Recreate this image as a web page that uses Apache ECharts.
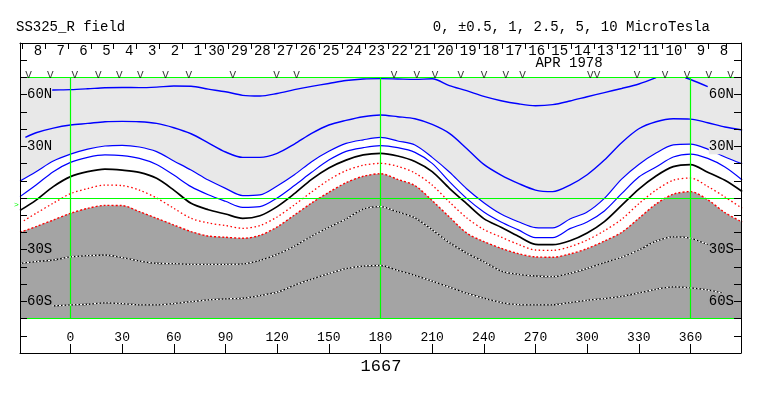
<!DOCTYPE html>
<html><head><meta charset="utf-8">
<script src="https://cdn.jsdelivr.net/npm/echarts@6/dist/echarts.min.js"></script>
<style>html,body{margin:0;padding:0;background:#fff}#c{width:763px;height:396px}</style>
</head><body><div id="c"></div>
<script>
// ---------------- data ----------------
const lonTicks = [0,30,60,90,120,150,180,210,240,270,300,330,360];
const dayTicks = [0,1,2,3,4,5,6,7,8,9,10,11,12,13,14,15,16,17,18,19,20,21,22,23,24,25,26,27,28,29,30,30.8];
const dayLabelPos = [0.5,1.5,2.5,3.5,4.5,5.5,6.5,7.5,8.5,9.5,10.5,11.5,12.5,13.5,14.5,15.5,16.5,17.5,18.5,19.5,20.5,21.5,22.5,23.5,24.5,25.5,26.5,27.5,28.5,29.5,30.5];
const dayLabels = ['8','7','6','5','4','3','2','1','30','29','28','27','26','25','24','23','22','21','20','19','18','17','16','15','14','13','12','11','10','9','8'];
const obsLons = [-24.3,-11.7,2.5,16.1,28.4,40.6,55.2,68.7,94.3,119.7,131.3,187.9,201.1,211.7,226.7,240.2,252.8,262.5,301.8,305.8,329.0,345.3,358.0,370.6,383.2];
const latLabelVals = [60,30,-30,-60];
const latLabelText = ['60N','30N','30S','60S'];
const greenLons = [0,180,360];
const greenLats = [70,0,-70];
const plotTop = 70, plotBottom = -70;

// contour latitudes [Carrington longitude, latitude]
const b5 = [[-12.6,62.6],[-10,62.7],[0,62.9],[10,63.4],[20,64.0],[30,64.2],[40,64.1],[50,64.4],[60,65.0],[70,64.9],[80,63.2],[90,61.7],[100,59.6],[110,59.2],[120,60.7],[130,62.9],[140,64.8],[150,66.5],[160,68.2],[170,69.1],[180,69.3],[190,69.1],[200,68.9],[210,69.2],[220,65.3],[230,62.3],[240,59],[250,56.5],[260,54.7],[270,53.6],[280,54.2],[290,56.3],[300,58.8],[310,61.2],[320,63.6],[330,66.2],[340,69.9],[350,'-'],[357,69.8],[360,68.8],[370,64.7]];
const b25 = [[-26.2,35.2],[-20,37.9],[-10,40.6],[0,42.4],[10,43.3],[20,44.3],[30,44.5],[40,44.3],[50,43.3],[60,40.8],[70,37.3],[80,32],[90,26.7],[100,23.6],[110,23.6],[120,25.9],[130,31.3],[140,37.5],[150,42.4],[160,45.1],[170,47.2],[180,48.2],[190,47.2],[200,46],[210,42.7],[220,37.5],[230,28.8],[240,19.5],[250,13.3],[260,8.5],[270,4.6],[280,3.7],[290,7.5],[300,13.5],[310,22],[320,32.1],[330,40.2],[340,44.3],[350,46],[360,45.8],[370,43.7],[380,41.2],[390,39.5]];
const b1 = [[-29.3,9.9],[-20,15.3],[-10,21.5],[0,25.5],[10,28.4],[20,30.2],[30,30.6],[40,29.6],[50,26.9],[60,21.5],[70,16.2],[80,10.4],[90,5.6],[100,1.4],[110,1.8],[120,7],[130,13.5],[140,21.1],[150,27.1],[160,31.7],[170,33.8],[180,35.2],[190,33.1],[200,30.8],[210,23.6],[220,15.1],[230,5.4],[240,-2.7],[250,-9.3],[260,-13.8],[270,-17.2],[280,-17.4],[290,-12.2],[300,-8.1],[310,-0.2],[320,11],[330,19.5],[340,26.1],[350,30.8],[360,31.3],[370,28.4],[380,23.8],[390,19.8]];
const b05 = [[-29.3,0.8],[-20,7.5],[-10,15.3],[0,20.7],[10,23.6],[20,25],[30,24.6],[40,23],[50,19.5],[60,13.3],[70,6.6],[80,1.9],[90,-1.9],[100,-5.4],[110,-5],[120,0],[130,7.2],[140,14.9],[150,22],[160,27.1],[170,29.2],[180,30.4],[190,29.2],[200,26.5],[210,20.1],[220,9.5],[230,-0.2],[240,-8.1],[250,-13.9],[260,-18.5],[270,-23],[280,-23],[290,-17.8],[300,-13.9],[310,-7.5],[320,2.5],[330,12.2],[340,18],[350,23.8],[360,25.5],[370,23],[380,18],[390,10.5]];
const k0 = [[-29.3,-7.2],[-20,-1.2],[-10,6.6],[0,12.4],[10,15.3],[20,16.8],[30,16.2],[40,14.9],[50,11.4],[60,4.6],[70,-3.1],[80,-6.8],[90,-9.3],[100,-11.8],[110,-10.3],[120,-5],[130,2.5],[140,10.8],[150,17.4],[160,22],[170,25],[180,25.9],[190,24.4],[200,21.2],[210,15.3],[220,5.6],[230,-3.3],[240,-12],[250,-17],[260,-22.2],[270,-26.9],[280,-27.1],[290,-24.8],[300,-20.3],[310,-13.7],[320,-4.3],[330,5.2],[340,12.8],[350,18.2],[360,19.4],[370,15],[380,10.3],[390,3.8]];
const r05 = [[-27.1,-13.2],[-20,-8.9],[-10,-3],[0,2.5],[10,5.5],[20,7.5],[30,7.2],[40,4.6],[50,0],[60,-6],[70,-11.8],[80,-14.5],[90,-16],[100,-17.6],[110,-16],[120,-11],[130,-4],[140,3.5],[150,10.5],[160,15.9],[170,19],[180,20.1],[190,18.4],[200,14.5],[210,7.5],[220,-2.3],[230,-11.5],[240,-18.3],[250,-22.7],[260,-26.9],[270,-30.2],[280,-30.4],[290,-28.3],[300,-24.4],[310,-19],[320,-12.4],[330,-3.3],[340,4.6],[350,10.3],[360,11.6],[370,6.7],[380,0.6],[390,-6]];
const r1 = [[-29.3,-20],[-20,-16.6],[-10,-12.8],[0,-8.9],[10,-6],[20,-4.3],[30,-4.4],[40,-7.9],[50,-11.8],[60,-15.7],[70,-19.5],[80,-22.1],[90,-22.8],[100,-23.4],[110,-21.7],[120,-16.8],[130,-9.9],[140,-2.9],[150,3.3],[160,8.9],[170,12.6],[180,14.1],[190,10.8],[200,7.2],[210,-1.5],[220,-11],[230,-20.3],[240,-25.3],[250,-29.2],[260,-32.3],[270,-34.2],[280,-34.4],[290,-32.5],[300,-29.4],[310,-25],[320,-20],[330,-11.8],[340,-3.5],[350,2.2],[360,3.7],[370,-1],[380,-8.5],[390,-14]];
const w25 = [[-29.3,-37.9],[-20,-36.9],[-10,-36],[0,-34.2],[10,-33.5],[20,-33.1],[30,-34.6],[40,-36.6],[50,-37.9],[60,-38.1],[70,-38.5],[80,-38.5],[90,-38.5],[100,-38.3],[110,-36.2],[120,-32.7],[130,-28],[140,-22.2],[150,-17],[160,-12.2],[170,-6.4],[180,-5],[190,-8.1],[200,-11.5],[210,-18.4],[220,-25.9],[230,-32],[240,-37],[250,-42.4],[260,-44.3],[270,-45.3],[280,-45.6],[290,-43.7],[300,-40.8],[310,-37.5],[320,-34.4],[330,-30.2],[340,-25.1],[350,-22.6],[360,-23.4],[370,-27]];
const w5 = [[-10.7,-62.7],[0,-62.1],[10,-61.7],[20,-60.9],[30,-61.3],[40,-62.1],[50,-62.1],[60,-61.3],[70,-60.2],[80,-59.2],[90,-58.6],[100,-58.2],[110,-56.7],[120,-54.7],[130,-50.7],[140,-47.2],[150,-43.9],[160,-41],[170,-39.5],[180,-39.2],[190,-42],[200,-44.9],[210,-48.3],[220,-51.8],[230,-55.3],[240,-58.2],[250,-60.7],[260,-61.9],[270,-62.1],[280,-62.1],[290,-60.7],[300,-59.4],[310,-58.4],[320,-57.1],[330,-55.1],[340,-53],[350,-51.6],[360,-52.2],[370,-53.4],[379,-55.3]];

// ---------------- chart ----------------
const MONO = '"Liberation Mono", "DejaVu Sans Mono", monospace';
const LIGHT = '#e8e8e8', DARK = '#a4a4a4';
const xMin = -29.32, xMax = 389.33;
const dMin = -0.096, dMax = 31.43;
const SM = 0.3;

function lineS(data, color, width, type, z) {
  return { type:'line', data, xAxisIndex:0, yAxisIndex:0, symbol:'none', smooth:SM, silent:true, z: z||4,
    lineStyle:{ color, width, type: type||'solid' } };
}
function areaS(data, color, z) {
  return { type:'line', data, xAxisIndex:0, yAxisIndex:0, symbol:'none', smooth:SM, silent:true, z,
    lineStyle:{ width:0, opacity:0 }, areaStyle:{ color, opacity:1, origin: plotBottom } };
}

const greenMark = [];
greenLats.forEach(v => greenMark.push([{coord:[xMin, v]}, {coord:[xMax, v]}]));
greenLons.forEach(v => greenMark.push([{coord:[v, plotBottom]}, {coord:[v, plotTop]}]));

const latRich = {
  n:{ backgroundColor:LIGHT, fontFamily:MONO, fontSize:14, color:'#000', padding:[1,0,1,0] },
  s:{ backgroundColor:DARK, fontFamily:MONO, fontSize:14, color:'#000', padding:[1,0,1,0] }
};
function latFmt(v) {
  const i = latLabelVals.indexOf(v);
  if (i < 0) return '';
  return (v > 0 ? '{n|' : '{s|') + latLabelText[i] + '}';
}
function dayFmt(v) {
  const s = dayLabels[Math.round(v - 0.5)] || '';
  return s.length < 2 ? '\u00a0' + s : s;
}
function yAxisDef(pos) {
  return {
    type:'value', position:pos, min:-90, max:90, interval:10, z:10,
    axisLine:{ show:true, onZero:false, lineStyle:{ color:'#000', width:1 } },
    axisTick:{ show:true, inside:true, length:7, lineStyle:{ color:'#000' } },
    splitLine:{ show:false },
    axisLabel:{ show:true, inside:true, margin:7, formatter:latFmt, rich:latRich, fontFamily:MONO, fontSize:14, color:'#000' }
  };
}

const option = {
  animation:false,
  backgroundColor:'#fff',
  grid:{ left:20, right:22, top:43, bottom:43, containLabel:false },
  xAxis:[
    { type:'value', position:'bottom', min:xMin, max:xMax, z:10,
      axisLine:{ show:true, onZero:false, lineStyle:{ color:'#000', width:1 } },
      axisTick:{ show:true, inside:true, length:9, customValues:lonTicks, lineStyle:{ color:'#000' } },
      axisLabel:{ show:true, inside:true, margin:9, customValues:lonTicks, fontFamily:MONO, fontSize:13, color:'#000' },
      splitLine:{ show:false } },
    { type:'value', position:'top', min:dMin, max:dMax, z:10,
      axisLine:{ show:true, onZero:false, lineStyle:{ color:'#000', width:1 } },
      axisTick:{ show:true, inside:true, length:6, customValues:dayTicks, lineStyle:{ color:'#000', width:1 } },
      axisLabel:{ show:true, inside:true, margin:1, customValues:dayLabelPos,
        formatter:dayFmt, fontFamily:MONO, fontSize:14, color:'#000' },
      splitLine:{ show:false } }
  ],
  yAxis:[ yAxisDef('left'), yAxisDef('right') ],
  series:[
    // background of the map region (lat -70..70)
    areaS([[xMin, plotTop],[xMax, plotTop]], LIGHT, 1),
    // |B| < 1 band (white) and strong negative region (dark)
    areaS(b1, '#ffffff', 2),
    areaS(r1, DARK, 3),
    // contours
    lineS(b5, '#0000ff', 1.4),
    lineS(b25, '#0000ff', 1.4),
    lineS(b1, '#0000ff', 1.2),
    lineS(b05, '#0000ff', 1.2),
    lineS(k0, '#000000', 1.7),
    lineS(r05, '#ff0000', 1.3, [1.5, 2.5]),
    lineS(r1, '#ff0000', 1.4, [2, 2]),
    lineS(w25, '#000000', 1.3),
    lineS(w25, '#ffffff', 1.3, [2, 1.5], 5),
    lineS(w5, '#000000', 1.3),
    lineS(w5, '#ffffff', 1.3, [2, 1.5], 5),
    // green reference lines
    { type:'line', data:[], xAxisIndex:0, yAxisIndex:0, z:6, silent:true,
      markLine:{ silent:true, symbol:['none','none'], label:{ show:false }, animation:false,
        lineStyle:{ color:'#00ff00', width:1.2, type:'solid', opacity:1 }, data:greenMark } },
    // observation day markers
    { type:'scatter', data: obsLons.map(v => [v, 71.5]), xAxisIndex:0, yAxisIndex:0, z:7, silent:true,
      symbol:'circle', symbolSize:1, itemStyle:{ color:'rgba(0,0,0,0)' },
      label:{ show:true, position:'inside', formatter:'V', fontFamily:MONO, fontSize:11, color:'#000' } }
  ],
  graphic:[
    { type:'text', x:16, y:27.5, style:{ text:'SS325_R field', font:'14px ' + MONO, fill:'#000', align:'left', verticalAlign:'middle' } },
    { type:'text', x:710, y:27.5, style:{ text:'0, \u00b10.5, 1, 2.5, 5, 10 MicroTesla', font:'14px ' + MONO, fill:'#000', align:'right', verticalAlign:'middle' } },
    { type:'text', x:569, y:62.8, style:{ text:'APR 1978', font:'14px ' + MONO, fill:'#000', align:'center', verticalAlign:'middle' } },
    { type:'text', x:381, y:366, style:{ text:'1667', font:'17px ' + MONO, fill:'#000', align:'center', verticalAlign:'middle' } },
    { type:'text', x:14, y:204.5, style:{ text:'>', font:'8px ' + MONO, fill:'#00ff00', align:'left', verticalAlign:'middle' } }
  ]
};
const chart = echarts.init(document.getElementById('c'), null, { renderer:'canvas' });
chart.setOption(option);
</script>
</body></html>
